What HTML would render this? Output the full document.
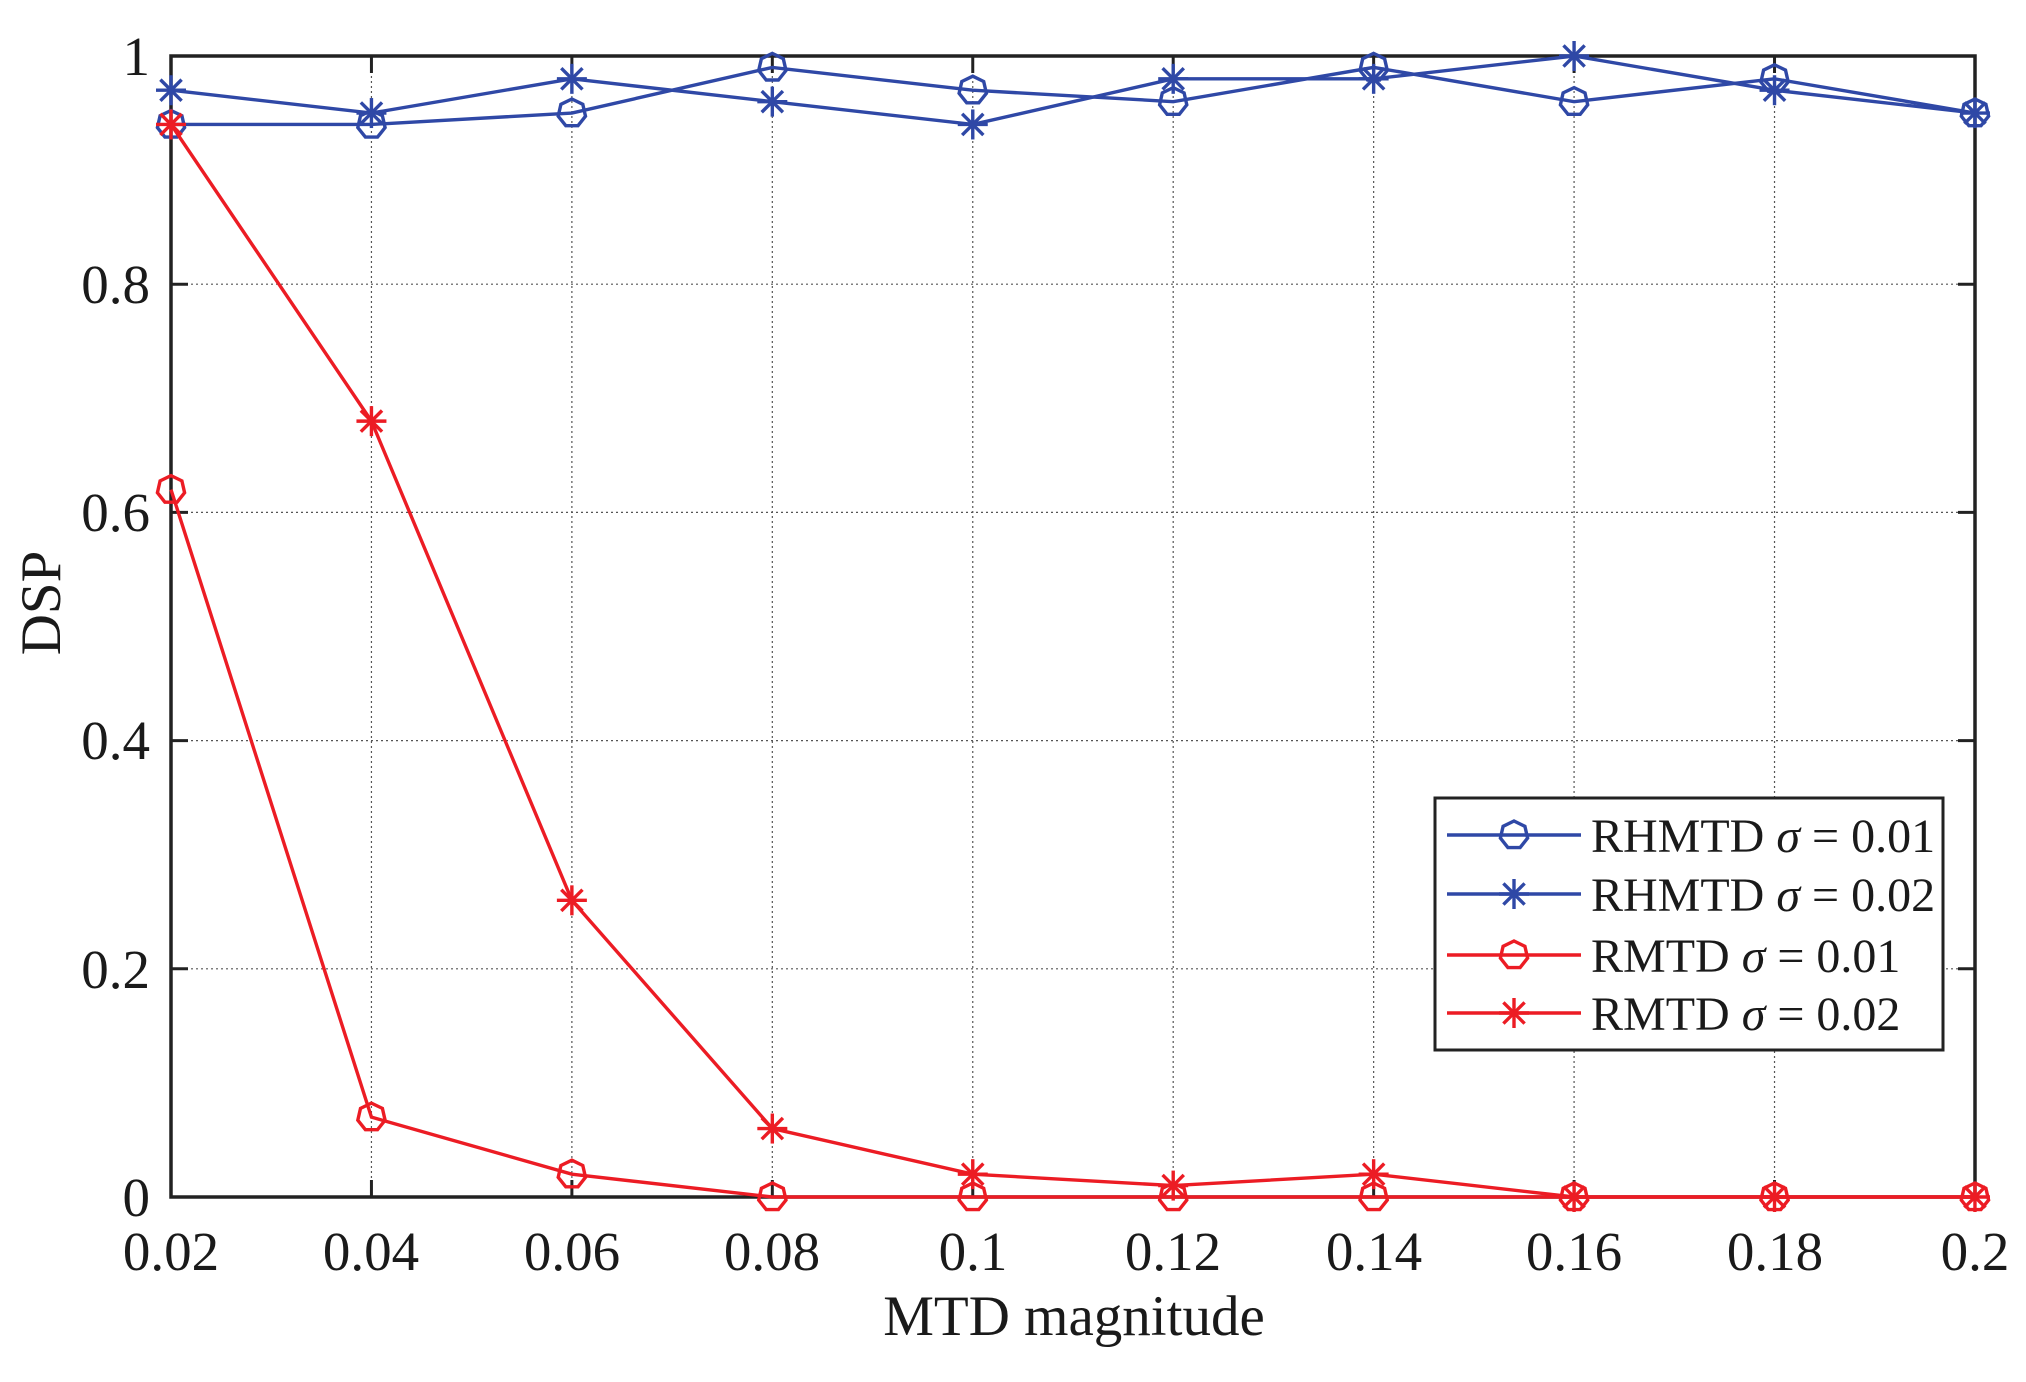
<!DOCTYPE html>
<html><head><meta charset="utf-8"><style>
html,body{margin:0;padding:0;background:#fff;}
svg{display:block;}
text{font-family:"Liberation Serif",serif;fill:#1a1a1a;}
</style></head><body>
<svg id="s" width="2026" height="1382" viewBox="0 0 2026 1382" xmlns="http://www.w3.org/2000/svg">
<rect width="2026" height="1382" fill="#fff"/>
<g id="grid" stroke="#555" stroke-width="1.2" stroke-dasharray="2,3"></g>
<g id="ticks" stroke="#222" stroke-width="3"></g>
<rect x="171" y="56" width="1804" height="1141" fill="none" stroke="#222" stroke-width="3.5"/>
<g id="series"></g>
<g font-size="55" text-anchor="end">
<text x="150" y="75">1</text>
<text x="150" y="303">0.8</text>
<text x="150" y="531">0.6</text>
<text x="150" y="759">0.4</text>
<text x="150" y="988">0.2</text>
<text x="150" y="1216">0</text>
</g>
<g font-size="55" text-anchor="middle">
<text x="171" y="1270">0.02</text>
<text x="371" y="1270">0.04</text>
<text x="572" y="1270">0.06</text>
<text x="772" y="1270">0.08</text>
<text x="973" y="1270">0.1</text>
<text x="1173" y="1270">0.12</text>
<text x="1374" y="1270">0.14</text>
<text x="1574" y="1270">0.16</text>
<text x="1775" y="1270">0.18</text>
<text x="1975" y="1270">0.2</text>
<text x="1074" y="1335" font-size="57">MTD magnitude</text>
<text x="0" y="0" font-size="57" transform="translate(60,603) rotate(-90)">DSP</text>
</g>
<rect x="1435" y="798" width="508" height="252" fill="#fff" stroke="#222" stroke-width="3"/>
<g id="leg"></g>
<g font-size="48">
<text x="1591" y="852">RHMTD  <tspan font-style="italic">σ</tspan> = 0.01</text>
<text x="1591" y="911">RHMTD  <tspan font-style="italic">σ</tspan> = 0.02</text>
<text x="1591" y="972">RMTD <tspan font-style="italic">σ</tspan> = 0.01</text>
<text x="1591" y="1030">RMTD <tspan font-style="italic">σ</tspan> = 0.02</text>
</g>
</svg>
<script>
var NS="http://www.w3.org/2000/svg";
function el(p,t,a){var e=document.createElementNS(NS,t);for(var k in a)e.setAttribute(k,a[k]);p.appendChild(e);return e;}
var X=function(i){return 171+i*200.44;},Y=function(v){return 1197-v*1141;};
var g=document.getElementById('grid'),tk=document.getElementById('ticks');
for(var i=1;i<9;i++){el(g,'line',{x1:X(i),y1:56,x2:X(i),y2:1197});el(tk,'line',{x1:X(i),y1:1197,x2:X(i),y2:1180});el(tk,'line',{x1:X(i),y1:56,x2:X(i),y2:73});}
for(var j=1;j<5;j++){var y=Y(j*0.2);el(g,'line',{x1:171,y1:y,x2:1975,y2:y});el(tk,'line',{x1:171,y1:y,x2:188,y2:y});el(tk,'line',{x1:1975,y1:y,x2:1958,y2:y});}
var B="#2f48a6",R="#ec1c24";
var data=[
 [B,'o',[.94,.94,.95,.99,.97,.96,.99,.96,.98,.95]],
 [B,'*',[.97,.95,.98,.96,.94,.98,.98,1.0,.97,.95]],
 [R,'o',[.62,.07,.02,0,0,0,0,0,0,0]],
 [R,'*',[.94,.68,.26,.06,.02,.01,.02,0,0,0]]];
function marker(p,c,m,x,y){
 if(m=='o'){var pts=[];for(var k=0;k<7;k++){var a=-Math.PI/2+k*2*Math.PI/7;pts.push((x+14*Math.cos(a)).toFixed(1)+','+(y+14*Math.sin(a)).toFixed(1));}
  el(p,'polygon',{points:pts.join(' '),fill:'none',stroke:c,'stroke-width':3.4});}
 else{for(var k=0;k<4;k++){var a=k*Math.PI/4,dx=15*Math.sin(a),dy=15*Math.cos(a);el(p,'line',{x1:x-dx,y1:y-dy,x2:x+dx,y2:y+dy,stroke:c,'stroke-width':3.4});}}
}
var s=document.getElementById('series');
data.forEach(function(d){var pts=d[2].map(function(v,i){return X(i)+','+Y(v);}).join(' ');
 el(s,'polyline',{points:pts,fill:'none',stroke:d[0],'stroke-width':3.4});
 d[2].forEach(function(v,i){marker(s,d[0],d[1],X(i),Y(v));});});
var L=document.getElementById('leg'),ry=[835,894,955,1013];
data.forEach(function(d,i){el(L,'line',{x1:1447,y1:ry[i],x2:1581,y2:ry[i],stroke:d[0],'stroke-width':3.4});marker(L,d[0],d[1],1514,ry[i]);});
</script>
</body></html>
